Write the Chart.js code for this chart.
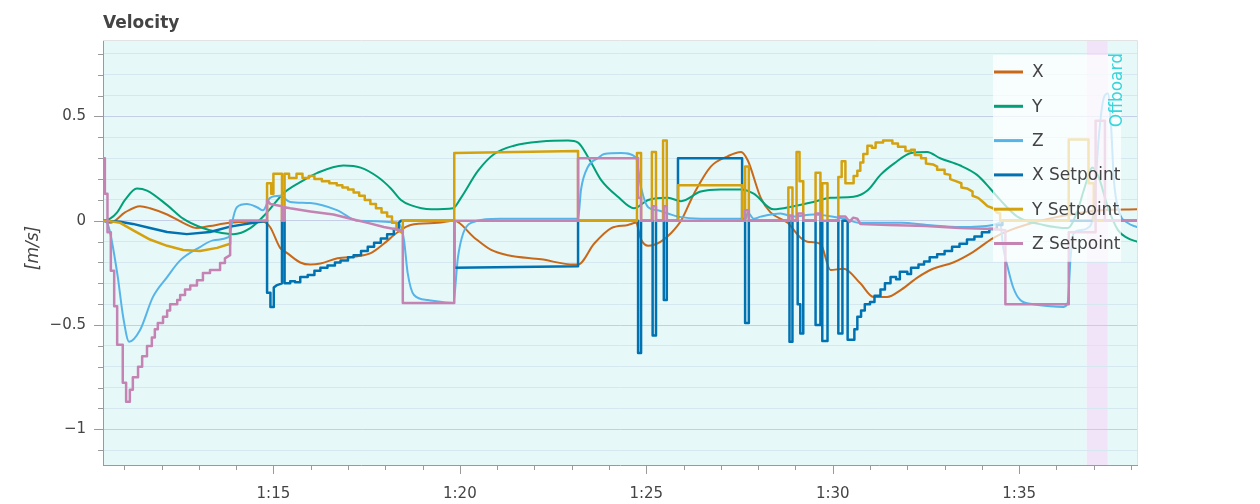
<!DOCTYPE html>
<html>
<head>
<meta charset="utf-8">
<script src="https://cdn.jsdelivr.net/npm/chart.js@4.4.1/dist/chart.umd.min.js"></script>
<style>
  html, body { margin: 0; padding: 0; background: #fff; }
  #wrap { width: 1260px; height: 504px; }
</style>
</head>
<body>
<div id="wrap"><canvas id="velocity" width="1260" height="504"></canvas></div>
<script>
// time in seconds, values in m/s
const X_MIN = 70.43, X_MAX = 98.16;
const Y_MIN = -1.171, Y_MAX = 0.862;

const xTicks = [71, 72, 73, 74, 75, 76, 77, 78, 79, 80, 81, 82, 83, 84, 85, 86, 87, 88, 89, 90, 91, 92, 93, 94, 95, 96, 97, 98];
const yTicks = [-1.1, -1.0, -0.9, -0.8, -0.7, -0.6, -0.5, -0.4, -0.3, -0.2, -0.1, 0, 0.1, 0.2, 0.3, 0.4, 0.5, 0.6, 0.7, 0.8];

// flight mode background bands
const modeStarts = [70.43, 96.81, 97.38];
const modeColors = ['#e7f8f8', '#f1e4f8', '#e7f8f8'];
const modeLabels = ['', '', 'Offboard'];

const xVelocity = [
    [70.43, 0], [70.62, -0.01], [71.02, 0.04], [71.42, 0.07], [71.69, 0.06], [72.15, 0.03], [72.58, -0.01],
    [72.95, -0.035], [73.30, -0.025], [73.84, -0.01], [74.38, -0.005], [74.72, -0.005], [74.91, -0.03],
    [75.18, -0.13], [75.37, -0.155], [75.72, -0.20], [75.99, -0.21], [76.26, -0.205], [76.72, -0.18],
    [77.26, -0.17], [77.61, -0.155], [77.96, -0.11], [78.34, -0.054], [78.68, -0.02], [79.41, -0.01],
    [79.85, 0], [80.38, -0.08], [80.84, -0.14], [81.29, -0.165], [82.18, -0.185], [83.06, -0.21],
    [83.17, -0.21], [83.60, -0.11], [84.06, -0.035], [84.51, -0.02], [84.72, -0.01], [84.86, -0.09],
    [85.05, -0.12], [85.39, -0.10], [85.66, -0.06], [85.93, 0], [86.28, 0.13], [86.73, 0.26], [87.19, 0.31],
    [87.54, 0.33], [87.72, 0.29], [88.07, 0.11], [88.33, 0.04], [88.79, -0.01], [89.13, -0.08], [89.32, -0.10],
    [89.67, -0.11], [89.94, -0.236], [90.29, -0.23], [90.74, -0.30], [91.09, -0.365], [91.46, -0.365],
    [91.84, -0.33], [92.29, -0.27], [92.69, -0.23], [93.23, -0.20], [93.76, -0.15], [94.30, -0.083],
    [94.76, -0.045], [95.57, 0], [96.38, 0.03], [97.19, 0.05], [98.16, 0.055]
];

const yVelocity = [
    [70.43, 0], [70.62, 0.01], [70.81, 0.04], [71.02, 0.10], [71.34, 0.155], [71.61, 0.145], [72.15, 0.075],
    [72.58, 0.01], [73.03, -0.03], [73.49, -0.054], [73.92, -0.064], [74.38, -0.035], [74.83, 0.04],
    [75.26, 0.13], [75.72, 0.185], [76.18, 0.23], [76.88, 0.265], [77.34, 0.255], [77.80, 0.21], [78.15, 0.155],
    [78.42, 0.10], [78.68, 0.075], [79.23, 0.055], [79.82, 0.06], [80.03, 0.11], [80.49, 0.24], [80.92, 0.32],
    [81.45, 0.36], [82.18, 0.38], [82.90, 0.385], [83.17, 0.375], [83.44, 0.305], [83.79, 0.195], [84.24, 0.115],
    [84.67, 0.06], [85.05, 0.10], [85.58, 0.11], [85.93, 0.094], [86.46, 0.14], [87.00, 0.15], [87.54, 0.15],
    [87.88, 0.13], [88.41, 0.055], [88.95, 0.07], [89.48, 0.09], [89.94, 0.11], [90.56, 0.115], [90.93, 0.145],
    [91.28, 0.22], [91.65, 0.275], [92.10, 0.325], [92.53, 0.33], [92.88, 0.30], [93.42, 0.265], [93.87, 0.22],
    [94.22, 0.155], [94.49, 0.10], [94.95, 0.02], [95.65, -0.02], [96.30, -0.035], [96.57, 0.05], [96.73, 0.145],
    [96.97, 0.255], [97.13, 0.21], [97.38, 0.065], [97.65, -0.045], [97.91, -0.083], [98.16, -0.10]
];

const zVelocity = [
    [70.43, 0], [70.54, -0.01], [70.81, -0.25], [70.97, -0.46], [71.13, -0.58], [71.42, -0.525], [71.77, -0.365],
    [72.15, -0.27], [72.50, -0.19], [73.03, -0.126], [73.38, -0.094], [73.78, -0.08], [73.84, -0.064],
    [73.89, -0.01], [74.02, 0.065], [74.29, 0.08], [74.56, 0.065], [74.72, 0.05], [74.91, 0.11], [75.18, 0.12],
    [75.45, 0.09], [75.99, 0.085], [76.72, 0.05], [77.26, 0], [78.34, -0.01], [78.50, -0.09], [78.60, -0.25],
    [78.77, -0.356], [79.14, -0.38], [79.82, -0.394], [79.95, -0.174], [80.09, -0.06], [80.30, -0.01],
    [81.08, 0.01], [83.17, 0.01], [83.25, 0.15], [83.44, 0.26], [83.70, 0.30], [83.87, 0.32], [84.32, 0.325],
    [84.72, 0.305], [84.86, 0.16], [85.05, 0.065], [85.31, 0.05], [85.58, 0.035], [85.85, 0.02], [86.46, 0.01],
    [87.67, 0.01], [87.72, 0.04], [87.88, 0.01], [88.07, 0.02], [88.60, 0.035], [88.95, 0.02], [89.48, 0.03],
    [90.29, 0.01], [90.74, -0.01], [91.84, -0.01], [92.53, -0.02], [93.42, -0.03], [94.30, -0.02],
    [94.49, -0.01], [94.57, -0.126], [94.71, -0.236], [94.84, -0.32], [95.03, -0.38], [95.38, -0.40],
    [95.84, -0.41], [96.19, -0.413], [96.30, -0.394], [96.38, -0.174], [96.46, -0.06], [96.65, -0.045],
    [96.84, -0.035], [97.00, 0.05], [97.13, 0.39], [97.27, 0.59], [97.38, 0.61], [97.46, 0.47], [97.54, 0.195],
    [97.67, 0.05], [97.91, -0.01], [98.16, -0.03]
];

const xSetpoint = [
    [70.43, 0], [70.89, -0.005], [71.23, -0.015], [71.69, -0.035], [72.15, -0.054], [72.68, -0.064],
    [73.30, -0.054], [73.84, -0.028], [74.38, -0.012], [74.83, 0],
    [74.83, -0.345], [74.92, -0.345], [74.92, -0.413], [75.01, -0.413], [75.01, -0.32], [75.08, -0.31],
    [75.23, -0.30], [75.23, 0], [75.30, 0], [75.30, -0.30],
    [75.45, -0.30], [75.45, -0.29], [75.58, -0.29], [75.58, -0.295], [75.72, -0.295], [75.72, -0.27],
    [75.92, -0.27], [75.92, -0.26], [76.10, -0.26], [76.10, -0.24], [76.26, -0.24], [76.26, -0.225],
    [76.45, -0.225], [76.45, -0.215], [76.65, -0.215], [76.65, -0.20], [76.80, -0.20], [76.80, -0.19],
    [77.00, -0.19], [77.00, -0.175], [77.15, -0.175], [77.15, -0.165], [77.35, -0.165], [77.35, -0.145],
    [77.53, -0.145], [77.53, -0.125], [77.70, -0.125], [77.70, -0.105], [77.88, -0.105], [77.88, -0.085],
    [78.05, -0.085], [78.05, -0.065], [78.23, -0.065], [78.23, -0.04], [78.36, -0.04], [78.36, -0.01], [78.42, 0],
    [79.85, 0], [79.85, -0.225], [83.17, -0.218], [83.17, 0],
    [84.78, 0], [84.78, -0.634], [84.86, -0.634], [84.86, 0],
    [85.17, 0], [85.17, -0.55], [85.26, -0.55], [85.26, 0],
    [85.47, 0], [85.47, -0.38], [85.55, -0.38], [85.55, 0],
    [85.85, 0], [85.85, 0.30], [87.57, 0.30], [87.57, 0],
    [87.65, 0], [87.65, -0.49], [87.75, -0.49], [87.75, 0],
    [88.84, 0], [88.84, -0.58], [88.92, -0.58], [88.92, 0],
    [89.06, 0], [89.06, -0.40], [89.13, -0.40], [89.13, -0.54], [89.21, -0.54], [89.21, 0],
    [89.54, 0], [89.54, -0.50], [89.67, -0.50], [89.67, 0],
    [89.72, 0], [89.72, -0.576], [89.86, -0.576], [89.86, 0],
    [90.15, 0], [90.15, -0.54], [90.26, -0.54], [90.26, 0],
    [90.40, 0], [90.40, -0.57], [90.58, -0.57], [90.58, -0.52], [90.66, -0.52], [90.66, -0.46],
    [90.76, -0.46], [90.76, -0.43], [90.86, -0.43], [90.86, -0.40], [91.00, -0.40], [91.00, -0.39],
    [91.12, -0.39], [91.12, -0.36], [91.28, -0.36], [91.28, -0.33], [91.40, -0.33], [91.40, -0.30],
    [91.55, -0.30], [91.55, -0.27], [91.70, -0.27], [91.70, -0.28], [91.80, -0.28], [91.80, -0.245],
    [92.00, -0.245], [92.00, -0.255], [92.10, -0.255], [92.10, -0.225], [92.30, -0.225], [92.30, -0.21],
    [92.45, -0.21], [92.45, -0.195], [92.60, -0.195], [92.60, -0.175], [92.80, -0.175], [92.80, -0.16],
    [93.00, -0.16], [93.00, -0.145], [93.20, -0.145], [93.20, -0.125], [93.40, -0.125], [93.40, -0.11],
    [93.60, -0.11], [93.60, -0.09], [93.80, -0.09], [93.80, -0.075], [94.00, -0.075], [94.00, -0.055],
    [94.20, -0.055], [94.20, -0.04], [94.40, -0.04], [94.40, -0.02], [94.55, -0.02], [94.55, 0],
    [98.16, 0]
];

const ySetpoint = [
    [70.43, 0], [70.54, 0], [70.89, -0.01], [71.23, -0.045], [71.69, -0.09], [72.15, -0.12], [72.58, -0.14],
    [73.03, -0.145], [73.49, -0.13], [73.84, -0.11], [73.84, 0],
    [74.83, 0], [74.83, 0.18], [74.94, 0.18], [74.94, 0.13], [75.00, 0.13], [75.00, 0.225], [75.23, 0.225],
    [75.23, 0], [75.30, 0], [75.30, 0.225], [75.42, 0.225], [75.42, 0.205], [75.62, 0.205], [75.62, 0.225],
    [75.78, 0.225], [75.78, 0.205], [75.95, 0.205], [75.95, 0.215], [76.10, 0.215], [76.10, 0.20],
    [76.30, 0.20], [76.30, 0.19], [76.50, 0.19], [76.50, 0.18], [76.70, 0.18], [76.70, 0.17], [76.85, 0.17],
    [76.85, 0.16], [77.00, 0.16], [77.00, 0.15], [77.15, 0.15], [77.15, 0.135], [77.30, 0.135], [77.30, 0.12],
    [77.45, 0.12], [77.45, 0.10], [77.60, 0.10], [77.60, 0.08], [77.75, 0.08], [77.75, 0.06], [77.90, 0.06],
    [77.90, 0.04], [78.05, 0.04], [78.05, 0.02], [78.18, 0.02], [78.18, -0.01], [78.30, -0.01], [78.30, -0.04],
    [78.47, -0.06], [78.47, 0],
    [79.85, 0], [79.85, 0.325], [83.17, 0.335], [83.17, 0],
    [84.75, 0], [84.75, 0.325], [84.86, 0.325], [84.86, 0],
    [85.15, 0], [85.15, 0.33], [85.26, 0.33], [85.26, 0],
    [85.45, 0], [85.45, 0.385], [85.55, 0.385], [85.55, 0],
    [85.85, 0], [85.85, 0.17], [87.57, 0.17], [87.57, 0],
    [87.65, 0], [87.65, 0.26], [87.75, 0.26], [87.75, 0],
    [88.81, 0], [88.81, 0.16], [88.92, 0.16], [88.92, 0],
    [89.03, 0], [89.03, 0.33], [89.11, 0.33], [89.11, 0.19], [89.21, 0.19], [89.21, 0],
    [89.54, 0], [89.54, 0.23], [89.67, 0.23], [89.67, 0],
    [89.72, 0], [89.72, 0.18], [89.86, 0.18], [89.86, 0],
    [90.15, 0], [90.15, 0.21], [90.24, 0.21], [90.24, 0.285], [90.34, 0.285], [90.34, 0.18],
    [90.56, 0.18], [90.56, 0.215], [90.66, 0.215], [90.66, 0.24], [90.74, 0.24], [90.74, 0.28],
    [90.82, 0.28], [90.82, 0.32], [90.93, 0.32], [90.93, 0.36], [91.05, 0.36], [91.05, 0.35],
    [91.15, 0.35], [91.15, 0.375], [91.35, 0.375], [91.35, 0.385], [91.60, 0.385], [91.60, 0.37],
    [91.75, 0.37], [91.75, 0.355], [91.95, 0.355], [91.95, 0.335], [92.10, 0.335], [92.10, 0.34],
    [92.20, 0.34], [92.20, 0.315], [92.37, 0.315], [92.37, 0.30], [92.50, 0.30], [92.50, 0.275],
    [92.69, 0.27], [92.80, 0.26], [92.80, 0.245], [93.00, 0.245], [93.00, 0.225], [93.15, 0.22],
    [93.15, 0.20], [93.30, 0.19], [93.45, 0.18], [93.45, 0.16], [93.60, 0.155], [93.75, 0.14],
    [93.75, 0.12], [93.90, 0.11], [94.03, 0.09], [94.15, 0.07], [94.30, 0.06], [94.40, 0.04],
    [94.49, 0.035], [94.49, 0],
    [96.33, 0], [96.33, 0.39], [96.86, 0.39], [96.86, 0.18], [97.00, 0.18], [97.00, 0], [98.16, 0]
];

const zSetpoint = [
    [70.43, 0.30], [70.48, 0.30], [70.48, 0.13], [70.55, 0.13], [70.55, -0.055], [70.64, -0.055],
    [70.64, -0.24], [70.73, -0.24], [70.73, -0.41], [70.81, -0.41], [70.81, -0.595], [70.96, -0.595],
    [70.96, -0.777], [71.05, -0.777], [71.05, -0.868], [71.15, -0.868], [71.15, -0.81], [71.23, -0.81],
    [71.23, -0.75], [71.37, -0.75], [71.37, -0.70], [71.48, -0.70], [71.48, -0.65], [71.61, -0.65],
    [71.61, -0.60], [71.74, -0.60], [71.74, -0.56], [71.82, -0.56], [71.82, -0.52], [71.90, -0.52],
    [71.90, -0.49], [72.04, -0.49], [72.04, -0.46], [72.15, -0.46], [72.15, -0.43], [72.23, -0.43],
    [72.23, -0.40], [72.42, -0.40], [72.42, -0.38], [72.50, -0.38], [72.50, -0.356], [72.63, -0.356],
    [72.63, -0.33], [72.77, -0.33], [72.77, -0.31], [72.95, -0.31], [72.95, -0.285], [73.11, -0.285],
    [73.11, -0.25], [73.30, -0.25], [73.30, -0.236], [73.57, -0.236], [73.57, -0.203], [73.70, -0.203],
    [73.70, -0.18], [73.84, -0.165], [73.84, 0],
    [74.83, 0], [74.83, 0.10], [74.92, 0.08], [75.23, 0.07], [75.23, 0], [75.30, 0], [75.30, 0.065],
    [75.45, 0.06], [75.99, 0.045], [76.61, 0.03], [77.07, 0.01], [77.53, -0.01], [77.96, -0.03],
    [78.42, -0.045], [78.47, -0.045], [78.47, -0.394], [79.85, -0.394], [79.85, 0],
    [83.17, 0], [83.17, 0.30], [84.78, 0.30], [84.78, 0.11], [84.86, 0.11], [84.86, 0],
    [85.17, 0], [85.17, 0.07], [85.26, 0.07], [85.26, 0], [85.47, 0], [85.47, 0.07], [85.55, 0.07], [85.55, 0],
    [87.65, 0], [87.65, 0.05], [87.75, 0.05], [87.75, 0], [88.84, 0], [88.84, 0.025], [88.92, 0.025], [88.92, 0],
    [89.06, 0], [89.06, 0.035], [89.21, 0.035], [89.21, 0], [89.54, 0], [89.54, 0.035], [89.67, 0.035], [89.67, 0],
    [90.15, 0], [90.15, 0.02], [90.34, 0.02], [90.45, -0.005], [90.55, 0.015], [90.66, 0.01], [90.74, -0.015],
    [91.50, -0.02], [92.50, -0.025], [93.40, -0.035], [94.30, -0.04], [94.63, -0.045],
    [94.63, -0.40], [96.33, -0.40], [96.33, -0.055], [97.05, -0.055], [97.05, 0.48], [97.30, 0.48],
    [97.30, 0], [98.16, 0]
];

const seriesLabels = ['X', 'Y', 'Z', 'X Setpoint', 'Y Setpoint', 'Z Setpoint'];
const seriesColors = ['#c8691a', '#00a078', '#56b4e9', '#0072b2', '#d4a20f', '#c583b3'];
const seriesData = [xVelocity, yVelocity, zVelocity, xSetpoint, ySetpoint, zSetpoint];

const FONT = "'DejaVu Sans', sans-serif";
const TEXT_COLOR = '#444';

function isMajorY(v) {
    return Math.abs(v * 2 - Math.round(v * 2)) < 1e-6;
}

function formatTime(v) {
    const s = Math.round(v);
    return Math.floor(s / 60) + ':' + String(s % 60).padStart(2, '0');
}

const velocityDecor = {
    id: 'velocityDecor',
    beforeDraw(chart) {
        const { ctx, chartArea: a, scales: { x } } = chart;
        ctx.save();
        modeStarts.forEach((start, i) => {
            const end = i + 1 < modeStarts.length ? modeStarts[i + 1] : X_MAX;
            const x0 = Math.max(a.left, x.getPixelForValue(start));
            const x1 = Math.min(a.right, x.getPixelForValue(end));
            ctx.fillStyle = modeColors[i];
            ctx.fillRect(x0, a.top, x1 - x0, a.bottom - a.top);
        });
        ctx.restore();
    },
    afterDatasetsDraw(chart) {
        // legend, top right inside the plot
        const { ctx, chartArea: a } = chart;
        const right = a.right - 16, top = a.top + 14;
        const w = 128, rowH = 34.3;
        const h = rowH * chart.data.datasets.length + 1;
        ctx.save();
        ctx.fillStyle = 'rgba(255,255,255,0.72)';
        ctx.fillRect(right - w, top, w, h);
        ctx.font = '17px ' + FONT;
        ctx.textBaseline = 'middle';
        chart.data.datasets.forEach((ds, i) => {
            const y = top + 17 + i * rowH;
            ctx.strokeStyle = ds.borderColor;
            ctx.lineWidth = 3;
            ctx.beginPath();
            ctx.moveTo(right - w + 1, y);
            ctx.lineTo(right - w + 30, y);
            ctx.stroke();
            ctx.fillStyle = TEXT_COLOR;
            ctx.fillText(ds.label, right - w + 39, y + 1);
        });
        ctx.restore();
    },
    afterDraw(chart) {
        const { ctx, chartArea: a, scales: { x, y } } = chart;
        ctx.save();

        // plot outline (top / right)
        ctx.strokeStyle = '#e2e2e2';
        ctx.lineWidth = 1;
        ctx.beginPath();
        ctx.moveTo(a.left, a.top - 0.5);
        ctx.lineTo(a.right + 0.5, a.top - 0.5);
        ctx.lineTo(a.right + 0.5, a.bottom);
        ctx.stroke();

        // tick marks, major and minor
        ctx.strokeStyle = '#9a9a9a';
        ctx.beginPath();
        xTicks.forEach(t => {
            const px = Math.round(x.getPixelForValue(t)) + 0.5;
            const len = t % 5 === 0 ? 9 : 5;
            ctx.moveTo(px, a.bottom);
            ctx.lineTo(px, a.bottom + len);
        });
        yTicks.forEach(v => {
            const py = Math.round(y.getPixelForValue(v)) + 0.5;
            const len = isMajorY(v) ? 9 : 5;
            ctx.moveTo(a.left, py);
            ctx.lineTo(a.left - len, py);
        });
        ctx.stroke();

        // title
        ctx.fillStyle = TEXT_COLOR;
        ctx.font = 'bold 17px ' + FONT;
        ctx.textBaseline = 'alphabetic';
        ctx.textAlign = 'left';
        ctx.fillText('Velocity', a.left, 28);

        // y axis label
        ctx.save();
        ctx.translate(34, (a.top + a.bottom) / 2 - 5);
        ctx.rotate(-Math.PI / 2);
        ctx.font = 'italic 17px ' + FONT;
        ctx.textAlign = 'center';
        ctx.textBaseline = 'middle';
        ctx.fillText('[m/s]', 0, 0);
        ctx.restore();

        // flight mode labels
        modeLabels.forEach((label, i) => {
            if (!label) return;
            ctx.save();
            ctx.translate(x.getPixelForValue(modeStarts[i]) + 10, a.top + 12);
            ctx.rotate(-Math.PI / 2);
            ctx.font = '17px ' + FONT;
            ctx.fillStyle = '#36d6da';
            ctx.textAlign = 'right';
            ctx.textBaseline = 'middle';
            ctx.fillText(label, 0, 0);
            ctx.restore();
        });

        ctx.restore();
    }
};

const datasets = seriesData.map((pts, i) => ({
    label: seriesLabels[i],
    data: pts.map(p => ({ x: p[0], y: p[1] })),
    borderColor: seriesColors[i],
    borderWidth: i < 3 ? 2 : 2.5,
    cubicInterpolationMode: i < 3 ? 'monotone' : 'default',
    tension: 0,
    borderJoinStyle: 'round',
    borderCapStyle: 'round',
    pointRadius: 0,
    fill: false,
    order: seriesData.length - i
}));

new Chart(document.getElementById('velocity'), {
    type: 'line',
    data: { datasets },
    options: {
        responsive: false,
        animation: false,
        devicePixelRatio: 1,
        layout: { padding: { left: 0, top: 41, right: 123, bottom: 0 } },
        plugins: {
            legend: { display: false },
            tooltip: { enabled: false },
            title: { display: false }
        },
        scales: {
            x: {
                type: 'linear',
                min: X_MIN,
                max: X_MAX,
                afterBuildTicks: scale => { scale.ticks = xTicks.map(v => ({ value: v })); },
                afterFit: scale => { scale.height = 39; },
                border: { display: true, color: '#9a9a9a', width: 1 },
                grid: { drawOnChartArea: false, drawTicks: false },
                ticks: {
                    autoSkip: false,
                    maxRotation: 0,
                    padding: 20,
                    color: TEXT_COLOR,
                    font: { family: FONT, size: 15 },
                    callback: v => (v % 5 === 0 ? formatTime(v) : '')
                }
            },
            y: {
                type: 'linear',
                min: Y_MIN,
                max: Y_MAX,
                afterBuildTicks: scale => { scale.ticks = yTicks.map(v => ({ value: v })); },
                afterFit: scale => { scale.width = 103; },
                border: { display: true, color: '#9a9a9a', width: 1 },
                grid: {
                    drawTicks: false,
                    color: c => (isMajorY(c.tick.value) ? '#c4cee6' : '#d5e8ef'),
                    lineWidth: 1
                },
                ticks: {
                    autoSkip: false,
                    padding: 17,
                    color: TEXT_COLOR,
                    font: { family: FONT, size: 15 },
                    callback: v => {
                        if (!isMajorY(v)) return '';
                        const r = Math.round(v * 10) / 10;
                        return r < 0 ? '\u2212' + String(-r) : String(r);
                    }
                }
            }
        }
    },
    plugins: [velocityDecor]
});
</script>
</body>
</html>
